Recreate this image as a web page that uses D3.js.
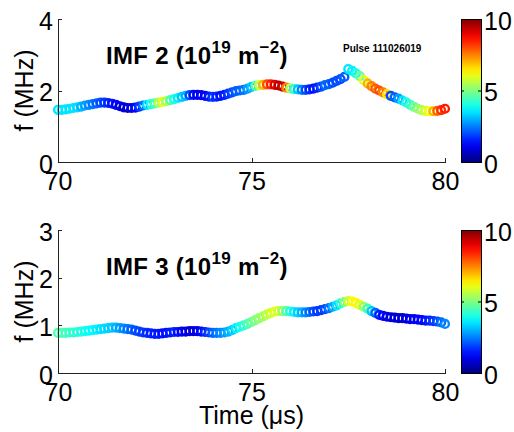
<!DOCTYPE html>
<html>
<head>
<meta charset="utf-8">
<script src="https://cdn.jsdelivr.net/npm/d3@7"></script>
<style>
  body { margin: 0; background: #fff; }
  svg { display: block; font-family: "Liberation Sans", Arial, sans-serif; }
</style>
</head>
<body>
<svg id="chart"></svg>
<script>
const width = 514, height = 432;

// time axis (µs), one sample every 0.1 µs
const time = d3.range(0, 101).map((i) => +(70 + i * 0.1).toFixed(1));

// IMF 2 frequency (MHz) and density (10^19 m^-2)
const imf2Freq = [
  1.46, 1.46, 1.47, 1.49, 1.51, 1.53, 1.55, 1.58, 1.60, 1.62,
  1.64, 1.66, 1.66, 1.65, 1.63, 1.60, 1.56, 1.53, 1.51, 1.51,
  1.52, 1.55, 1.58, 1.60, 1.62, 1.64, 1.66, 1.68, 1.70, 1.73,
  1.76, 1.79, 1.82, 1.85, 1.87, 1.88, 1.88, 1.87, 1.85, 1.83,
  1.82, 1.83, 1.85, 1.88, 1.91, 1.95, 1.98, 2.00, 2.02, 2.05,
  2.10, 2.13, 2.15, 2.16, 2.17, 2.17, 2.16, 2.14, 2.11, 2.08,
  2.06, 2.04, 2.03, 2.02, 2.02, 2.03, 2.05, 2.08, 2.11, 2.15,
  2.18, 2.22, 2.27, 2.32, 2.38, 2.60, 2.55, 2.48, 2.40, 2.29,
  2.20, 2.12, 2.05, 2.00, 1.95, 1.90, 1.85, 1.81, 1.77, 1.72,
  1.67, 1.60, 1.54, 1.49, 1.45, 1.43, 1.42, 1.42, 1.43, 1.45,
  1.49
];
const imf2Dens = [
  3.5, 3.5, 3.5, 3.5, 3.5, 3.4, 3.0, 2.8, 2.6, 2.4,
  2.2, 2.0, 1.8, 1.6, 1.4, 1.2, 1.0, 0.8, 0.8, 1.0,
  1.3, 1.8, 2.4, 3.5, 4.0, 4.5, 5.5, 6.0, 5.5, 4.5,
  4.0, 3.6, 3.2, 3.0, 2.0, 1.3, 1.0, 1.1, 1.2, 1.5,
  1.8, 1.6, 1.4, 1.5, 1.8, 2.0, 2.2, 2.2, 2.4, 2.8,
  3.2, 4.5, 5.8, 7.0, 8.0, 8.5, 9.0, 9.5, 9.3, 7.5,
  5.5, 4.0, 3.2, 2.5, 2.0, 1.6, 1.4, 1.6, 2.0, 2.3,
  2.2, 2.0, 2.0, 2.0, 2.2, 3.5, 3.6, 4.0, 4.8, 6.0,
  7.0, 7.5, 7.8, 8.0, 7.5, 6.5, 2.0, 2.2, 2.8, 3.5,
  4.0, 4.3, 4.8, 5.2, 5.5, 5.8, 6.2, 7.0, 7.8, 8.3,
  8.5
];

// IMF 3 frequency (MHz) and density (10^19 m^-2)
const imf3Freq = [
  0.84, 0.84, 0.84, 0.85, 0.85, 0.86, 0.87, 0.88, 0.89, 0.90,
  0.91, 0.92, 0.93, 0.94, 0.95, 0.95, 0.94, 0.93, 0.92, 0.91,
  0.89, 0.87, 0.85, 0.84, 0.83, 0.82, 0.82, 0.83, 0.84, 0.85,
  0.86, 0.86, 0.87, 0.87, 0.88, 0.88, 0.88, 0.87, 0.86, 0.85,
  0.84, 0.84, 0.84, 0.85, 0.87, 0.90, 0.94, 0.97, 1.00, 1.03,
  1.07, 1.11, 1.15, 1.19, 1.23, 1.26, 1.29, 1.30, 1.30, 1.30,
  1.29, 1.28, 1.27, 1.27, 1.27, 1.28, 1.29, 1.30, 1.32, 1.34,
  1.36, 1.39, 1.42, 1.46, 1.49, 1.51, 1.50, 1.47, 1.43, 1.39,
  1.35, 1.30, 1.26, 1.22, 1.20, 1.18, 1.17, 1.16, 1.15, 1.15,
  1.14, 1.13, 1.13, 1.12, 1.11, 1.10, 1.10, 1.09, 1.08, 1.06,
  1.03
];
const imf3Dens = [
  4.6, 4.5, 4.4, 4.3, 4.2, 4.1, 4.0, 3.9, 3.8, 3.7,
  3.6, 3.5, 3.4, 3.3, 3.2, 3.0, 2.8, 2.6, 2.4, 2.2,
  2.0, 1.9, 1.8, 1.7, 1.6, 1.5, 1.5, 1.4, 1.4, 1.5,
  1.6, 1.4, 1.2, 1.0, 0.9, 0.9, 1.0, 1.3, 1.6, 1.9,
  2.2, 2.4, 2.6, 2.8, 3.0, 3.3, 3.6, 3.9, 4.2, 4.5,
  4.8, 5.0, 5.2, 5.4, 5.6, 5.8, 6.0, 5.8, 5.2, 4.6,
  4.0, 3.6, 3.3, 3.0, 2.6, 2.3, 2.0, 1.8, 1.8, 2.0,
  2.4, 3.0, 3.5, 4.2, 5.0, 5.8, 6.3, 6.3, 6.0, 5.2,
  4.3, 3.2, 2.2, 1.5, 1.2, 1.0, 0.9, 0.8, 0.8, 0.8,
  0.9, 1.0, 1.1, 1.2, 1.3, 1.4, 1.6, 1.8, 2.0, 2.3,
  2.6
];

const xTicks = [70, 75, 80];
const cbTicks = [0, 5, 10];

// MATLAB-style jet colormap
function jet(v) {
  const t = Math.max(0, Math.min(1, v));
  const c = (x) => Math.round(255 * Math.max(0, Math.min(1, 1.5 - Math.abs(4 * t - x))));
  return `rgb(${c(3)},${c(2)},${c(1)})`;
}

const svg = d3.select("#chart").attr("width", width).attr("height", height);
const axisColor = "#222";
const dens = d3.scaleLinear().domain([0, 10]).range([0, 1]);

// gradient for the colorbars
const grad = svg.append("defs").append("linearGradient")
  .attr("id", "jetGrad")
  .attr("x1", 0).attr("y1", 1).attr("x2", 0).attr("y2", 0);
d3.range(0, 1.0001, 0.05).forEach((s) => {
  grad.append("stop").attr("offset", s).attr("stop-color", jet(s));
});

function drawPanel(opts) {
  const x = d3.scaleLinear().domain([70, 80]).range([58, 445]);
  const y = d3.scaleLinear().domain([0, opts.yMax]).range([opts.bottom, opts.top]);

  // markers (open circles, heavily overlapping)
  const g = svg.append("g");
  g.selectAll("circle")
    .data(time.map((t, i) => ({ t: t, f: opts.freq[i], d: opts.dens[i] })))
    .enter()
    .append("circle")
    .attr("cx", (d) => x(d.t))
    .attr("cy", (d) => y(d.f))
    .attr("r", 3.9)
    .attr("fill", "none")
    .attr("stroke", (d) => jet(dens(d.d)))
    .attr("stroke-width", 2.4);

  // axes
  const xa = svg.append("g")
    .attr("transform", `translate(0,${opts.bottom})`)
    .call(d3.axisBottom(x).tickValues(xTicks).tickSizeInner(-4).tickSizeOuter(0).tickPadding(10));
  const ya = svg.append("g")
    .attr("transform", "translate(58,0)")
    .call(d3.axisLeft(y).tickValues(opts.yTicks).tickFormat(d3.format("d"))
      .tickSizeInner(-4).tickSizeOuter(0).tickPadding(5));
  [xa, ya].forEach((a) => {
    a.selectAll("path, line").attr("stroke", axisColor).attr("shape-rendering", "crispEdges");
    a.selectAll("text").attr("font-size", 25).attr("fill", "#000")
      .attr("font-family", "Liberation Sans, Arial, sans-serif");
  });
  ya.selectAll("text").attr("dy", "0.4em");

  // y label
  svg.append("text")
    .attr("transform", `translate(33,${(opts.top + opts.bottom) / 2}) rotate(-90)`)
    .attr("text-anchor", "middle")
    .attr("font-size", 25)
    .text("f (MHz)");

  // title
  const title = svg.append("text")
    .attr("x", 106).attr("y", opts.top + 45)
    .attr("font-size", 24).attr("font-weight", "bold")
    .attr("letter-spacing", 0.3);
  title.append("tspan").text(`IMF ${opts.imf} (10`);
  title.append("tspan").attr("dy", -11).attr("font-size", 17).text("19");
  title.append("tspan").attr("dy", 11).text(" m");
  title.append("tspan").attr("dy", -11).attr("font-size", 17).text("\u22122");
  title.append("tspan").attr("dy", 11).text(")");

  // colorbar
  const cb = d3.scaleLinear().domain([0, 10]).range([opts.bottom, opts.top]);
  svg.append("rect")
    .attr("x", 461).attr("y", opts.top)
    .attr("width", 20).attr("height", opts.bottom - opts.top)
    .attr("fill", "url(#jetGrad)")
    .attr("stroke", "#000").attr("stroke-width", 1)
    .attr("shape-rendering", "crispEdges");
  const ca = svg.append("g")
    .attr("transform", "translate(481,0)")
    .call(d3.axisRight(cb).tickValues(cbTicks).tickSizeInner(-3).tickSizeOuter(0).tickPadding(3));
  ca.select(".domain").remove();
  ca.selectAll("line").attr("stroke", "#000");
  ca.selectAll(".tick").append("line")
    .attr("x1", -20).attr("x2", -17).attr("stroke", "#000");
  ca.selectAll("text").attr("font-size", 25).attr("fill", "#000").attr("dy", "0.4em")
    .attr("font-family", "Liberation Sans, Arial, sans-serif");
}

drawPanel({ imf: 2, freq: imf2Freq, dens: imf2Dens, yMax: 4, yTicks: [0, 2, 4], top: 19, bottom: 162 });
drawPanel({ imf: 3, freq: imf3Freq, dens: imf3Dens, yMax: 3, yTicks: [0, 1, 2, 3], top: 230, bottom: 373 });

svg.append("text")
  .attr("x", 343).attr("y", 52)
  .attr("font-size", 10).attr("font-weight", "bold")
  .text("Pulse 111026019");

svg.append("text")
  .attr("x", 251.5).attr("y", 424)
  .attr("text-anchor", "middle")
  .attr("font-size", 25)
  .text("Time (\u03bcs)");
</script>
</body>
</html>
